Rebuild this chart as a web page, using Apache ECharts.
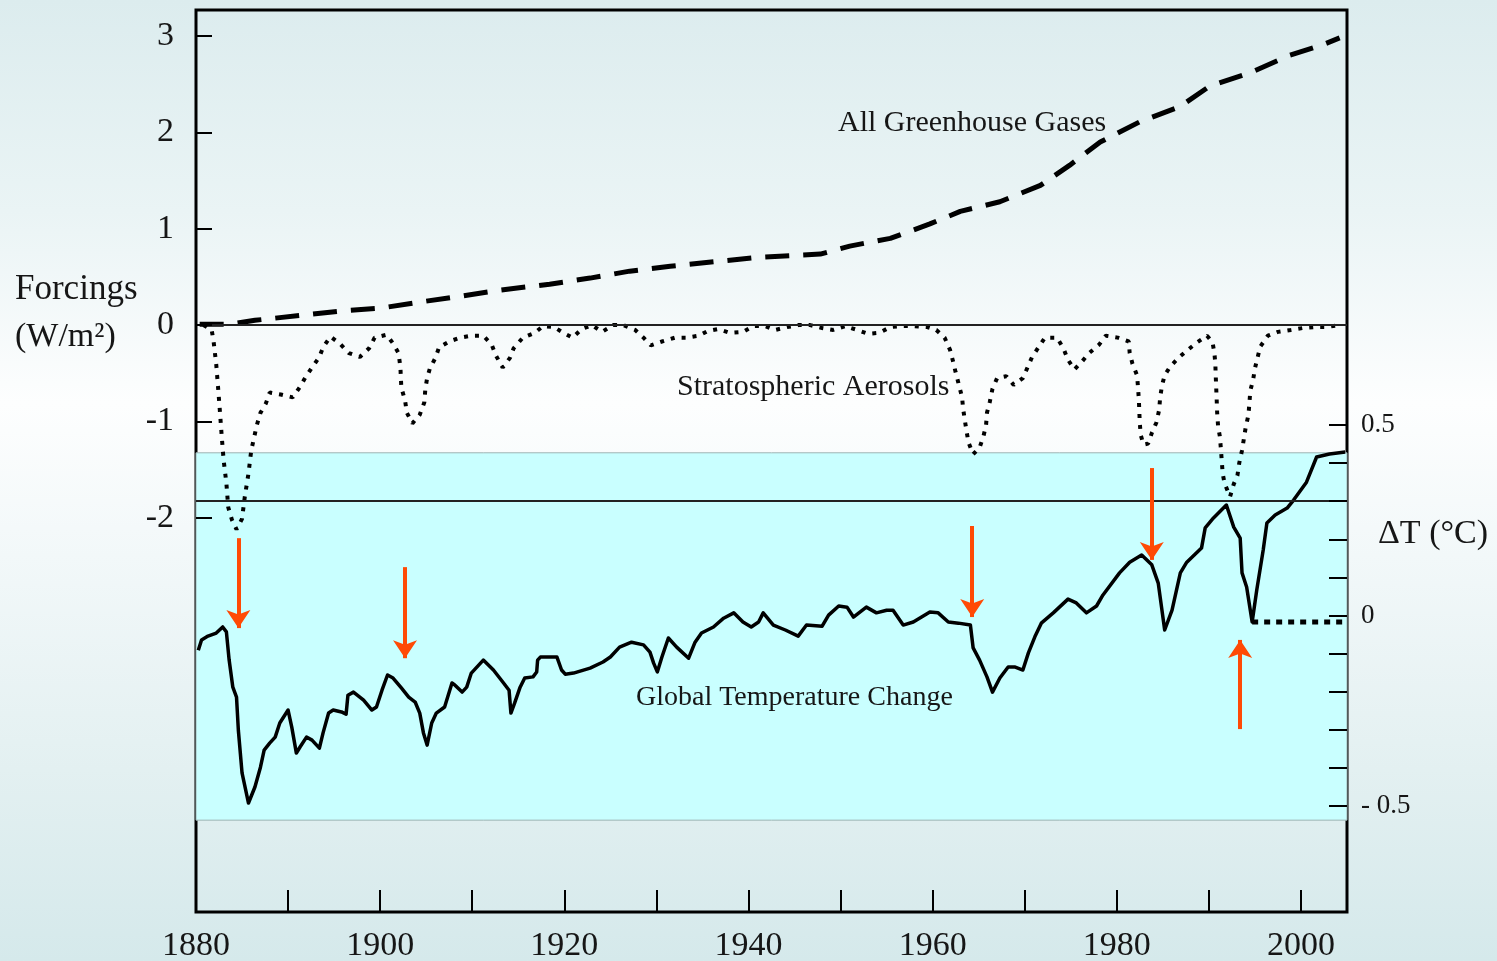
<!DOCTYPE html>
<html>
<head>
<meta charset="utf-8">
<title>Forcings and Global Temperature Change</title>
<script src="https://cdn.jsdelivr.net/npm/echarts@6/dist/echarts.min.js"></script>
<style>
  html, body { margin: 0; padding: 0; overflow: hidden; }
  #chart { width: 1497px; height: 961px; }
</style>
</head>
<body>
<div id="chart"></div>
<script>
// All greenhouse gases forcing (W/m2)
const ghgYears = [1880.4, 1883.7, 1886.4, 1891.3, 1895.6, 1900.0, 1904.3, 1908.7, 1913.0, 1918.4, 1922.8, 1927.1, 1931.5, 1936.9, 1941.3, 1945.6, 1947.8, 1951.0, 1955.4, 1959.7, 1963.0, 1967.3, 1971.7, 1974.9, 1978.2, 1982.5, 1986.9, 1990.1, 1994.5, 1998.8, 2002.1, 2004.2];
const ghgValues = [0.01, 0.01, 0.05, 0.10, 0.145, 0.176, 0.239, 0.30, 0.363, 0.425, 0.488, 0.56, 0.61, 0.664, 0.705, 0.726, 0.737, 0.82, 0.90, 1.05, 1.18, 1.28, 1.45, 1.66, 1.90, 2.11, 2.27, 2.48, 2.62, 2.80, 2.90, 2.98];

// Stratospheric aerosol forcing (W/m2)
const aerosolYears = [1880.8, 1881.7, 1881.9, 1882.2, 1882.4, 1882.6, 1882.8, 1883.0, 1883.3, 1883.5, 1883.9, 1884.4, 1885.0, 1885.3, 1885.7, 1886.0, 1886.6, 1887.0, 1887.6, 1888.0, 1889.2, 1890.5, 1891.3, 1891.9, 1892.6, 1893.4, 1893.8, 1894.6, 1895.6, 1896.6, 1897.8, 1898.8, 1899.4, 1900.7, 1901.4, 1902.0, 1902.2, 1902.3, 1902.7, 1902.9, 1903.5, 1904.3, 1904.8, 1904.9, 1905.1, 1905.4, 1906.0, 1906.4, 1907.5, 1908.7, 1909.9, 1911.2, 1912.1, 1912.6, 1913.3, 1914.1, 1914.5, 1915.5, 1916.8, 1917.7, 1918.9, 1919.9, 1920.9, 1921.9, 1923.0, 1924.1, 1925.3, 1926.4, 1927.7, 1928.6, 1929.4, 1930.6, 1932.0, 1933.3, 1934.6, 1935.6, 1936.7, 1938.0, 1939.4, 1940.5, 1941.8, 1942.9, 1944.2, 1945.4, 1946.7, 1948.0, 1949.2, 1950.5, 1951.8, 1953.0, 1954.2, 1955.4, 1956.6, 1957.9, 1959.4, 1960.4, 1961.3, 1961.9, 1962.2, 1962.5, 1962.8, 1963.2, 1963.3, 1963.5, 1963.7, 1963.9, 1964.4, 1965.1, 1965.5, 1965.8, 1965.9, 1966.2, 1966.5, 1967.0, 1968.0, 1968.8, 1969.8, 1970.3, 1970.8, 1971.5, 1972.2, 1973.5, 1974.2, 1974.7, 1975.4, 1976.2, 1977.0, 1978.1, 1978.8, 1980.1, 1981.3, 1981.4, 1981.7, 1982.2, 1982.3, 1982.4, 1982.45, 1982.5, 1982.6, 1982.9, 1983.4, 1983.8, 1984.3, 1984.6, 1984.7, 1984.9, 1985.2, 1985.8, 1986.8, 1987.8, 1988.7, 1989.8, 1990.4, 1990.6, 1990.7, 1990.75, 1990.8, 1990.85, 1990.9, 1991.0, 1991.2, 1991.3, 1991.4, 1991.5, 1991.7, 1992.3, 1992.7, 1993.1, 1993.3, 1993.6, 1993.8, 1994.0, 1994.3, 1994.4, 1994.5, 1994.8, 1995.0, 1995.3, 1995.6, 1996.4, 1997.5, 1998.9, 2000.2, 2001.5, 2002.8, 2004.2];
const aerosolValues = [0.0, -0.05, -0.16, -0.41, -0.65, -0.90, -1.16, -1.40, -1.64, -1.89, -2.02, -2.12, -2.01, -1.78, -1.54, -1.30, -1.04, -0.91, -0.81, -0.70, -0.72, -0.75, -0.64, -0.54, -0.44, -0.33, -0.23, -0.12, -0.19, -0.29, -0.33, -0.24, -0.13, -0.10, -0.19, -0.29, -0.44, -0.65, -0.78, -0.91, -1.02, -0.93, -0.80, -0.67, -0.55, -0.45, -0.34, -0.23, -0.17, -0.13, -0.11, -0.11, -0.20, -0.32, -0.44, -0.34, -0.24, -0.13, -0.08, -0.01, -0.02, -0.08, -0.13, -0.04, 0.0, -0.07, 0.0, 0.0, -0.05, -0.13, -0.21, -0.17, -0.13, -0.13, -0.11, -0.06, -0.04, -0.08, -0.07, -0.01, -0.01, -0.05, -0.02, 0.0, 0.0, -0.03, -0.05, -0.01, -0.05, -0.09, -0.08, -0.02, -0.01, -0.01, -0.02, -0.05, -0.13, -0.26, -0.37, -0.49, -0.60, -0.75, -0.86, -0.99, -1.11, -1.22, -1.34, -1.27, -1.16, -1.04, -0.91, -0.80, -0.66, -0.55, -0.53, -0.62, -0.55, -0.44, -0.33, -0.23, -0.13, -0.13, -0.24, -0.36, -0.46, -0.38, -0.29, -0.20, -0.11, -0.13, -0.17, -0.29, -0.40, -0.52, -0.64, -0.78, -0.91, -1.02, -1.14, -1.24, -1.23, -1.12, -1.01, -0.88, -0.76, -0.63, -0.52, -0.43, -0.33, -0.25, -0.18, -0.11, -0.18, -0.29, -0.40, -0.54, -0.66, -0.78, -0.91, -1.05, -1.16, -1.28, -1.41, -1.54, -1.64, -1.78, -1.65, -1.56, -1.43, -1.30, -1.18, -1.06, -0.93, -0.81, -0.68, -0.57, -0.45, -0.33, -0.22, -0.11, -0.07, -0.05, -0.03, -0.02, -0.02, 0.0];

// Global temperature change (deg C)
const tempYears = [1880.25, 1880.6, 1881.3, 1882.2, 1882.9, 1883.3, 1883.6, 1884.0, 1884.4, 1884.6, 1885.0, 1885.7, 1886.4, 1887.0, 1887.4, 1888.0, 1888.6, 1889.1, 1890.0, 1890.4, 1890.9, 1891.3, 1892.0, 1892.6, 1893.4, 1893.8, 1894.4, 1894.9, 1895.8, 1896.3, 1896.5, 1897.1, 1898.2, 1899.1, 1899.6, 1900.2, 1900.8, 1901.4, 1902.3, 1903.1, 1903.8, 1904.3, 1904.7, 1905.1, 1905.6, 1906.1, 1907.0, 1907.8, 1908.1, 1908.9, 1909.4, 1909.9, 1911.2, 1912.3, 1913.4, 1914.0, 1914.2, 1914.6, 1915.2, 1915.7, 1916.6, 1917.0, 1917.1, 1917.4, 1919.2, 1919.7, 1920.1, 1921.0, 1922.8, 1924.2, 1925.0, 1926.0, 1927.3, 1928.6, 1929.3, 1929.7, 1930.1, 1930.6, 1931.3, 1932.2, 1933.5, 1934.2, 1934.9, 1936.2, 1937.3, 1938.4, 1939.4, 1940.3, 1941.1, 1941.6, 1942.7, 1944.0, 1945.4, 1946.3, 1948.0, 1948.7, 1949.8, 1950.7, 1951.4, 1952.8, 1953.9, 1955.0, 1955.7, 1956.8, 1957.9, 1959.7, 1960.6, 1961.7, 1962.8, 1964.1, 1964.4, 1965.1, 1965.9, 1966.5, 1967.3, 1968.2, 1968.9, 1969.8, 1970.4, 1971.1, 1971.8, 1973.1, 1974.7, 1975.6, 1976.7, 1977.8, 1978.5, 1980.3, 1981.4, 1982.7, 1983.8, 1984.5, 1985.2, 1986.0, 1986.9, 1987.6, 1989.2, 1989.6, 1990.5, 1991.9, 1992.7, 1993.4, 1993.6, 1994.1, 1994.7, 1995.2, 1995.9, 1996.3, 1997.2, 1998.5, 1999.2, 2000.6, 2001.7, 2003.1, 2004.8];
const tempValues = [-0.091, -0.064, -0.054, -0.046, -0.030, -0.043, -0.117, -0.188, -0.214, -0.301, -0.413, -0.492, -0.450, -0.398, -0.353, -0.335, -0.319, -0.282, -0.248, -0.293, -0.361, -0.345, -0.319, -0.327, -0.348, -0.308, -0.256, -0.248, -0.253, -0.259, -0.209, -0.201, -0.222, -0.248, -0.240, -0.196, -0.156, -0.164, -0.190, -0.214, -0.227, -0.256, -0.308, -0.340, -0.282, -0.256, -0.240, -0.177, -0.182, -0.201, -0.188, -0.151, -0.117, -0.143, -0.177, -0.196, -0.256, -0.230, -0.188, -0.164, -0.161, -0.148, -0.117, -0.109, -0.109, -0.143, -0.154, -0.151, -0.138, -0.122, -0.109, -0.083, -0.070, -0.077, -0.096, -0.125, -0.148, -0.109, -0.059, -0.083, -0.112, -0.070, -0.046, -0.030, -0.007, 0.007, -0.017, -0.030, -0.017, 0.007, -0.025, -0.038, -0.054, -0.025, -0.028, 0.001, 0.025, 0.022, -0.004, 0.022, 0.007, 0.014, 0.014, -0.025, -0.017, 0.009, 0.007, -0.017, -0.020, -0.025, -0.085, -0.117, -0.161, -0.201, -0.164, -0.135, -0.135, -0.143, -0.098, -0.056, -0.020, 0.007, 0.043, 0.033, 0.007, 0.025, 0.054, 0.112, 0.140, 0.159, 0.133, 0.085, -0.038, 0.014, 0.112, 0.140, 0.177, 0.230, 0.256, 0.290, 0.232, 0.203, 0.112, 0.075, -0.017, 0.067, 0.172, 0.243, 0.264, 0.282, 0.303, 0.350, 0.416, 0.424, 0.429];

// Dotted continuation after the Pinatubo minimum
const tempTailYears = [1994.7, 2005];
const tempTailValues = [-0.017, -0.017];

// Volcanic eruption markers (year, arrow start and tip in deg C)
const eruptionYears = [1884.6, 1902.7, 1964.3, 1983.8, 1993.4];
const arrowFrom = [0.203, 0.127, 0.235, 0.387, -0.298];
const arrowTo = [-0.033, -0.112, -0.004, 0.146, -0.064];

// Shaded temperature panel and reference line (deg C)
const panelTop = 0.427;
const panelBottom = -0.537;
const referenceTemp = 0.3;

// Tick values
const forcingTicks = [-2, -1, 0, 1, 2, 3];
const tempTicks = [-0.5, -0.4, -0.3, -0.2, -0.1, 0, 0.1, 0.2, 0.3, 0.4, 0.5];
const tempTickLabels = [-0.5, 0, 0.5];

const zip = (xs, ys) => xs.map((x, i) => [x, ys[i]]);

const FONT = '"Liberation Serif", "Times New Roman", serif';
const INK = '#161616';

const chart = echarts.init(document.getElementById('chart'), null, { renderer: 'canvas' });

const arrowLines = eruptionYears.map((yr, i) => [
  { coord: [yr, arrowFrom[i]] },
  { coord: [yr, arrowTo[i]] }
]);

chart.setOption({
  animation: false,
  backgroundColor: {
    type: 'linear', x: 0, y: 0, x2: 0, y2: 1,
    colorStops: [
      { offset: 0, color: '#dcecee' },
      { offset: 0.22, color: '#eaf4f5' },
      { offset: 0.42, color: '#fdfefe' },
      { offset: 0.55, color: '#f4f9fa' },
      { offset: 0.8, color: '#e3f0f1' },
      { offset: 1, color: '#d5e9eb' }
    ]
  },
  grid: {
    left: 196, right: 150, top: 10, bottom: 49,
    outerBoundsMode: 'none',
    show: true, borderColor: '#000', borderWidth: 3,
    backgroundColor: 'transparent'
  },
  xAxis: {
    type: 'value', min: 1880, max: 2005, interval: 10, z: 10,
    axisLine: { show: false, onZero: false },
    splitLine: { show: false },
    axisTick: { show: true, inside: true, length: 22, lineStyle: { color: '#000', width: 2 } },
    axisLabel: {
      margin: 17, fontSize: 34, fontFamily: FONT, color: INK,
      formatter: v => (v % 20 === 0 && v <= 2000) ? String(v) : ''
    }
  },
  yAxis: [
    {
      type: 'value', min: -6.09, max: 3.27, position: 'left', z: 10,
      axisLine: { show: false, onZero: false },
      splitLine: { show: false },
      axisTick: { show: true, inside: true, length: 16, customValues: forcingTicks, lineStyle: { color: '#000', width: 2 } },
      axisLabel: { margin: 22, fontSize: 34, fontFamily: FONT, color: INK, customValues: forcingTicks }
    },
    {
      type: 'value', min: -0.778, max: 1.589, position: 'right', z: 10,
      axisLine: { show: false, onZero: false },
      splitLine: { show: false },
      axisTick: { show: true, inside: true, length: 18, customValues: tempTicks, lineStyle: { color: '#000', width: 2 } },
      axisLabel: {
        margin: 14, fontSize: 27, fontFamily: FONT, color: INK, customValues: tempTickLabels,
        formatter: v => v < 0 ? '- ' + Math.abs(v) : String(v)
      }
    }
  ],
  series: [
    {
      // shaded temperature panel and its reference line
      name: 'panel', type: 'line', yAxisIndex: 1, data: [], z: 1, silent: true,
      markArea: {
        silent: true,
        itemStyle: { color: '#c9ffff', borderColor: '#9fb3b3', borderWidth: 1 },
        data: [[{ coord: [1880, panelTop] }, { coord: [2005, panelBottom] }]]
      },
      markLine: {
        silent: true, symbol: 'none', label: { show: false },
        lineStyle: { color: '#222', width: 2, type: 'solid' },
        data: [{ yAxis: referenceTemp }]
      }
    },
    {
      name: 'All Greenhouse Gases', type: 'line', yAxisIndex: 0, z: 4,
      data: zip(ghgYears, ghgValues), showSymbol: false, symbol: 'none',
      lineStyle: { color: '#000', width: 5, type: [24, 14], cap: 'butt' },
      markLine: {
        silent: true, symbol: 'none', label: { show: false },
        lineStyle: { color: '#222', width: 2, type: 'solid' },
        data: [{ yAxis: 0 }]
      }
    },
    {
      name: 'Stratospheric Aerosols', type: 'line', yAxisIndex: 0, z: 4,
      data: zip(aerosolYears, aerosolValues), showSymbol: false, symbol: 'none',
      lineStyle: { color: '#000', width: 4, type: [4, 7], cap: 'butt' }
    },
    {
      name: 'Global Temperature Change', type: 'line', yAxisIndex: 1, z: 4,
      data: zip(tempYears, tempValues), showSymbol: false, symbol: 'none',
      lineStyle: { color: '#000', width: 3.5, join: 'round' }
    },
    {
      name: 'Temperature tail', type: 'line', yAxisIndex: 1, z: 4,
      data: zip(tempTailYears, tempTailValues), showSymbol: false, symbol: 'none',
      lineStyle: { color: '#000', width: 5, type: [6, 6], cap: 'butt' }
    },
    {
      // eruption arrows
      name: 'eruptions', type: 'line', yAxisIndex: 1, data: [], z: 5, silent: true,
      markLine: {
        silent: true, symbol: ['none', 'arrow'], symbolSize: [18, 18],
        label: { show: false },
        lineStyle: { color: '#ff4a05', width: 4, type: 'solid' },
        itemStyle: { color: '#ff4a05' },
        data: arrowLines
      }
    }
  ],
  graphic: [
    { type: 'text', z: 10, style: { text: 'Forcings', x: 15, y: 290, font: '35px ' + FONT, fill: INK, verticalAlign: 'middle' } },
    { type: 'text', z: 10, style: { text: '(W/m²)', x: 15, y: 337, font: '34px ' + FONT, fill: INK, verticalAlign: 'middle' } },
    { type: 'text', z: 10, style: { text: 'ΔT (°C)', x: 1378, y: 534, font: '34px ' + FONT, fill: INK, verticalAlign: 'middle' } },
    { type: 'text', z: 10, style: { text: 'All Greenhouse Gases', x: 838, y: 123, font: '30px ' + FONT, fill: INK, verticalAlign: 'middle' } },
    { type: 'text', z: 10, style: { text: 'Stratospheric Aerosols', x: 677, y: 387, font: '30px ' + FONT, fill: INK, verticalAlign: 'middle' } },
    { type: 'text', z: 10, style: { text: 'Global Temperature Change', x: 636, y: 698, font: '28px ' + FONT, fill: INK, verticalAlign: 'middle' } }
  ]
});
</script>
</body>
</html>
